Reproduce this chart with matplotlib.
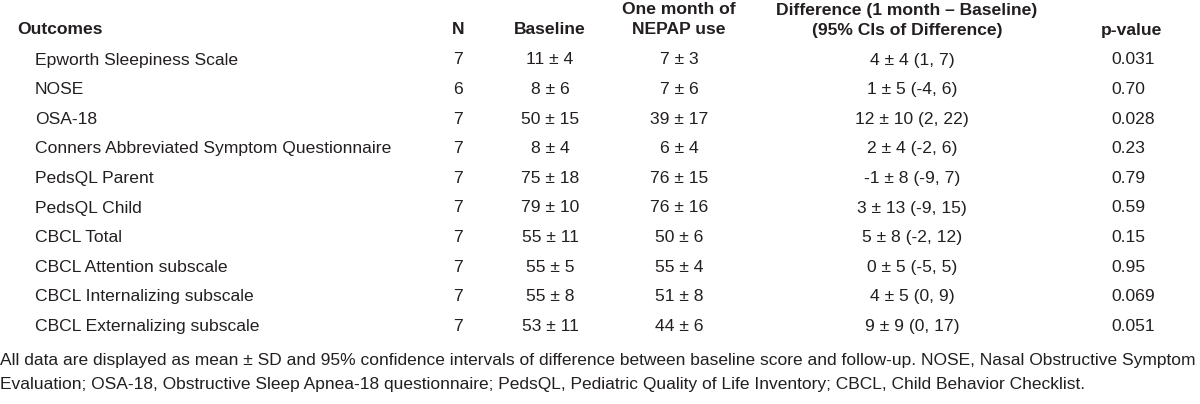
import matplotlib.pyplot as plt

# table data
outcomes = ["Epworth Sleepiness Scale", "NOSE", "OSA-18",
            "Conners Abbreviated Symptom Questionnaire", "PedsQL Parent",
            "PedsQL Child", "CBCL Total", "CBCL Attention subscale",
            "CBCL Internalizing subscale", "CBCL Externalizing subscale"]
n_vals = ["7", "6", "7", "7", "7", "7", "7", "7", "7", "7"]
baseline = ["11 ± 4", "8 ± 6", "50 ± 15", "8 ± 4", "75 ± 18", "79 ± 10",
            "55 ± 11", "55 ± 5", "55 ± 8", "53 ± 11"]
one_month = ["7 ± 3", "7 ± 6", "39 ± 17", "6 ± 4", "76 ± 15", "76 ± 16",
             "50 ± 6", "55 ± 4", "51 ± 8", "44 ± 6"]
difference = ["4 ± 4 (1, 7)", "1 ± 5 (-4, 6)", "12 ± 10 (2, 22)", "2 ± 4 (-2, 6)",
              "-1 ± 8 (-9, 7)", "3 ± 13 (-9, 15)", "5 ± 8 (-2, 12)",
              "0 ± 5 (-5, 5)", "4 ± 5 (0, 9)", "9 ± 9 (0, 17)"]
p_values = ["0.031", "0.70", "0.028", "0.23", "0.79", "0.59", "0.15", "0.95",
            "0.069", "0.051"]
footnote = ["All data are displayed as mean ± SD and 95% confidence intervals of difference "
            "between baseline score and follow-up. NOSE, Nasal Obstructive Symptom",
            "Evaluation; OSA-18, Obstructive Sleep Apnea-18 questionnaire; PedsQL, "
            "Pediatric Quality of Life Inventory; CBCL, Child Behavior Checklist."]

plt.rcParams['font.family'] = ['Liberation Sans', 'DejaVu Sans']
ink = '#231f20'
fs = 12.6

fig = plt.figure(figsize=(12, 4.04), dpi=100)
ax = fig.add_axes([0, 0, 1, 1])
ax.set_xlim(0, 1200)
ax.set_ylim(404, 0)
ax.axis('off')

# headers
hd = dict(fontsize=fs, fontweight='bold', color=ink, va='center')
ax.text(17, 30, "Outcomes", ha='left', **hd)
ax.text(458, 30, "N", ha='center', **hd)
ax.text(550, 30, "Baseline", ha='center', **hd)
ax.text(679, 10, "One month of", ha='center', **hd)
ax.text(679, 30, "NEPAP use", ha='center', **hd)
ax.text(907, 10, "Difference (1 month – Baseline)", ha='center', **hd)
ax.text(907, 30, "(95% CIs of Difference)", ha='center', **hd)
ax.text(1132, 30, "p-value", ha='center', **hd)

# rows
bd = dict(fontsize=fs, color=ink, va='center')
for i in range(len(outcomes)):
    y = 60 + i * 29.6
    ax.text(35, y, outcomes[i], ha='left', **bd)
    ax.text(458, y, n_vals[i], ha='center', **bd)
    ax.text(550, y, baseline[i], ha='center', **bd)
    ax.text(679, y, one_month[i], ha='center', **bd)
    ax.text(912, y, difference[i], ha='center', **bd)
    ax.text(1111, y, p_values[i], ha='left', **bd)

# footnote
for j, line in enumerate(footnote):
    ax.text(0, 361 + j * 24, line, ha='left', va='center', fontsize=12.55, color=ink)

fig.savefig("out.png", dpi=100)
